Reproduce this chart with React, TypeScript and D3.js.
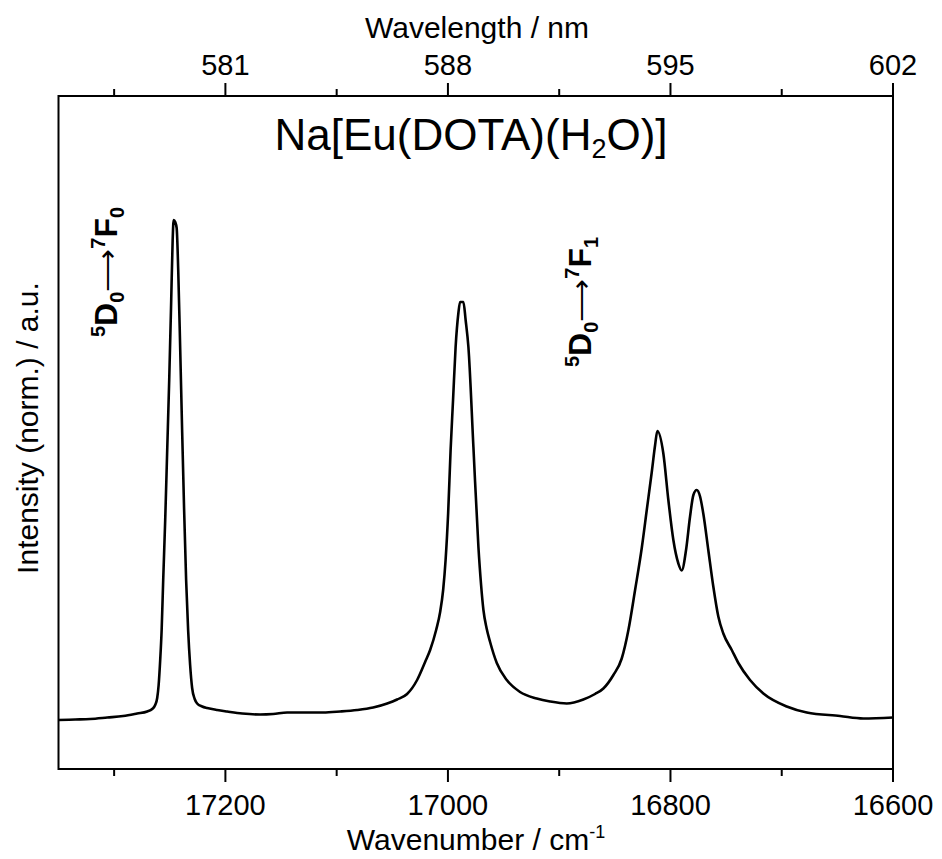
import React from "react";
import * as d3 from "d3";

const WAVENUMBER = [
  17350.0, 17335.0, 17321.5, 17306.2, 17291.9, 17279.3, 17270.3, 17265.8, 17263.1, 17261.3,
  17260.0, 17258.6, 17257.3, 17255.9, 17254.1, 17252.3, 17250.5, 17248.7, 17247.4, 17246.5,
  17245.1, 17243.8, 17242.4, 17240.6, 17238.9, 17237.1, 17235.3, 17233.5, 17231.7, 17229.9,
  17227.6, 17225.4, 17220.9, 17216.4, 17207.4, 17198.4, 17184.9, 17168.8, 17157.1, 17144.5,
  17128.3, 17112.1, 17096.8, 17081.6, 17067.2, 17054.6, 17045.7, 17036.7, 17027.7, 17020.5,
  17016.0, 17010.6, 17007.0, 17004.3, 17002.1, 16999.8, 16997.6, 16995.4, 16993.1, 16990.6,
  16989.1, 16986.1, 16984.1, 16981.6, 16977.1, 16972.6, 16970.2, 16968.1, 16965.3, 16962.1,
  16956.1, 16947.1, 16935.2, 16920.2, 16908.2, 16893.2, 16878.3, 16867.8, 16860.3, 16851.3,
  16843.8, 16837.8, 16831.8, 16825.8, 16821.3, 16816.8, 16813.8, 16811.8, 16806.4, 16801.9,
  16797.4, 16792.9, 16789.9, 16786.0, 16782.4, 16779.4, 16776.4, 16773.4, 16770.5, 16766.0,
  16761.5, 16757.0, 16752.5, 16744.9, 16739.0, 16728.5, 16716.5, 16695.5, 16677.5, 16647.6,
  16626.7, 16600.0,
];

const INTENSITY = [
  0.0, 0.001, 0.002, 0.005, 0.008, 0.013, 0.017, 0.022, 0.03, 0.044,
  0.07, 0.12, 0.18, 0.28, 0.4, 0.54, 0.68, 0.84, 0.96, 1.0,
  0.996, 0.984, 0.9, 0.74, 0.58, 0.42, 0.28, 0.18, 0.11, 0.064,
  0.042, 0.033, 0.027, 0.024, 0.02, 0.017, 0.013, 0.011, 0.012, 0.015,
  0.015, 0.015, 0.017, 0.02, 0.025, 0.033, 0.041, 0.052, 0.08, 0.116,
  0.14, 0.18, 0.216, 0.26, 0.32, 0.414, 0.54, 0.64, 0.746, 0.814,
  0.836, 0.836, 0.8, 0.746, 0.546, 0.346, 0.27, 0.22, 0.184, 0.156,
  0.114, 0.08, 0.056, 0.043, 0.037, 0.033, 0.041, 0.052, 0.063, 0.09,
  0.123, 0.18, 0.26, 0.344, 0.42, 0.496, 0.55, 0.578, 0.533, 0.44,
  0.36, 0.313, 0.299, 0.34, 0.407, 0.45, 0.46, 0.447, 0.413, 0.34,
  0.267, 0.207, 0.173, 0.14, 0.114, 0.08, 0.053, 0.027, 0.015, 0.008,
  0.003, 0.005,
];

const BOTTOM_MAJOR = [17200, 17000, 16800, 16600];
const BOTTOM_MINOR = [17300, 17100, 16900, 16700];
const TOP_MAJOR = [581, 588, 595, 602];
const TOP_MINOR = [577.5, 584.5, 591.5, 598.5];

const X_DOMAIN = [17350, 16600];
const TOP_DOMAIN = [575.75, 602];
const Y_DOMAIN = [-0.098, 1.248];

const FONT = "'Liberation Sans', Arial, Helvetica, sans-serif";

function Transition({ tx, ty, last }: { tx: number; ty: number; last: string }) {
  return (
    <text transform={`translate(${tx}, ${ty}) rotate(-90)`} fontSize={32} fontWeight="bold">
      <tspan dy={-12} fontSize={20}>5</tspan>
      <tspan dy={12}>D</tspan>
      <tspan dy={7} fontSize={20}>0</tspan>
      <tspan dy={-7} fontWeight="normal" fontSize={30}>⟶</tspan>
      <tspan dy={-12} fontSize={20}>7</tspan>
      <tspan dy={12}>F</tspan>
      <tspan dy={7} fontSize={20}>{last}</tspan>
    </text>
  );
}

export default function App() {
  const W = 942;
  const H = 859;
  const L = 58.5;
  const R = 893;
  const T = 96;
  const B = 769;

  const x = d3.scaleLinear().domain(X_DOMAIN).range([L, R]);
  const xTop = d3.scaleLinear().domain(TOP_DOMAIN).range([L, R]);
  const y = d3.scaleLinear().domain(Y_DOMAIN).range([B, T]);

  const data = WAVENUMBER.map((w, i) => [w, INTENSITY[i]] as [number, number]);
  const line = d3
    .line<[number, number]>()
    .x((d) => x(d[0]))
    .y((d) => y(d[1]))
    .curve(d3.curveMonotoneX);

  const major = 13;
  const minor = 7;
  const tickFs = 29;
  const titleFs = 30;

  return (
    <svg
      width={W}
      height={H}
      style={{ position: "absolute", left: 0, top: 0, background: "#fff" }}
      fontFamily={FONT}
    >
      <rect x={0} y={0} width={W} height={H} fill="#fff" />
      <defs>
        <clipPath id="plotclip">
          <rect x={L} y={T} width={R - L} height={B - T} />
        </clipPath>
      </defs>
      <path
        d={line(data) || ""}
        fill="none"
        stroke="#000"
        strokeWidth={2.6}
        strokeLinejoin="round"
        clipPath="url(#plotclip)"
      />
      <rect x={L} y={T} width={R - L} height={B - T} fill="none" stroke="#000" strokeWidth={2} />

      {/* bottom axis */}
      {BOTTOM_MAJOR.map((v) => (
        <g key={"bm" + v}>
          <line x1={x(v)} x2={x(v)} y1={B} y2={B + major} stroke="#000" strokeWidth={2} />
          <text x={x(v)} y={B + 46} fontSize={tickFs} textAnchor="middle">
            {v}
          </text>
        </g>
      ))}
      {BOTTOM_MINOR.map((v) => (
        <line key={"bn" + v} x1={x(v)} x2={x(v)} y1={B} y2={B + minor} stroke="#000" strokeWidth={2} />
      ))}
      <text x={476} y={850} fontSize={titleFs} textAnchor="middle">
        Wavenumber / cm
        <tspan dy={-12} fontSize={18}>
          -1
        </tspan>
      </text>

      {/* top axis */}
      {TOP_MAJOR.map((v) => (
        <g key={"tm" + v}>
          <line x1={xTop(v)} x2={xTop(v)} y1={T} y2={T - major} stroke="#000" strokeWidth={2} />
          <text x={xTop(v)} y={T - 21} fontSize={tickFs} textAnchor="middle">
            {v}
          </text>
        </g>
      ))}
      {TOP_MINOR.map((v) => (
        <line key={"tn" + v} x1={xTop(v)} x2={xTop(v)} y1={T} y2={T - minor} stroke="#000" strokeWidth={2} />
      ))}
      <text x={477} y={38} fontSize={titleFs} textAnchor="middle">
        Wavelength / nm
      </text>

      {/* y axis title */}
      <text transform={`translate(38, 428) rotate(-90)`} fontSize={titleFs} textAnchor="middle">
        Intensity (norm.) / a.u.
      </text>

      {/* chart title */}
      <text x={471} y={150} fontSize={44} textAnchor="middle">
        Na[Eu(DOTA)(H
        <tspan dy={8} fontSize={27}>
          2
        </tspan>
        <tspan dy={-8}>O)]</tspan>
      </text>

      {/* transition labels */}
      <Transition tx={117} ty={337} last="0" />
      <Transition tx={591} ty={367} last="1" />
    </svg>
  );
}
